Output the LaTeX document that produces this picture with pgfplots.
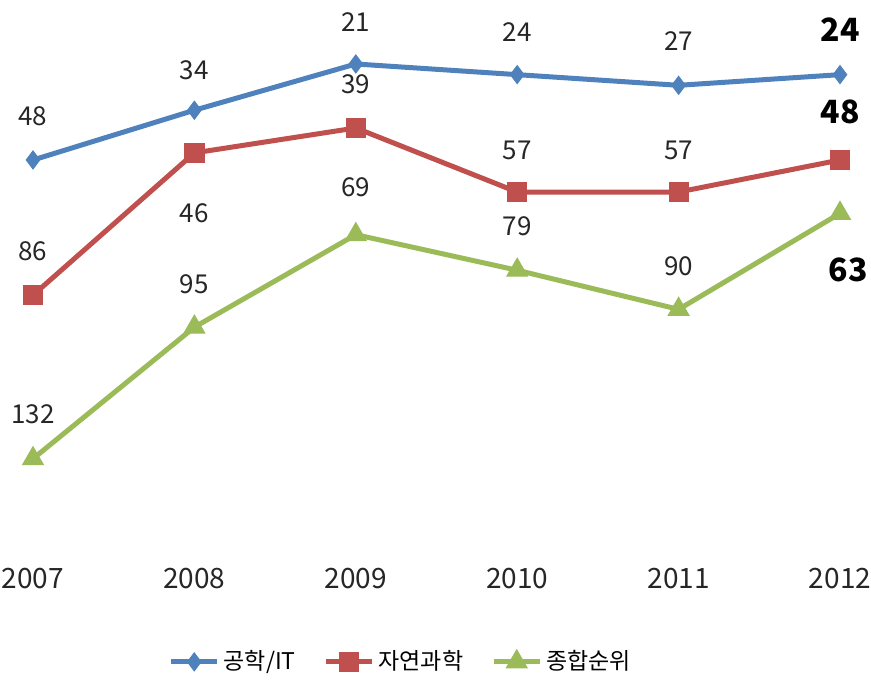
\documentclass[border=0pt]{standalone}
\usepackage{pgfplots}
\pgfplotsset{compat=1.18}
\usepackage{fontspec}
\setmainfont{Noto Sans CJK KR}

\definecolor{cBlue}{HTML}{4F81BD}
\definecolor{cRed}{HTML}{C0504D}
\definecolor{cGreen}{HTML}{9BBB59}

\begin{document}
\begin{tikzpicture}
\begin{axis}[
    scale only axis,
    width=403.5pt, height=284.5pt,
    xmin=2007, xmax=2012,
    ymin=0, ymax=160,
    y dir=reverse,
    clip=false,
    axis line style={draw=none},
    major tick length=0pt,
    ytick=\empty,
    xtick={2007,2008,2009,2010,2011,2012},
    /pgf/number format/1000 sep={},
    /pgf/number format/assume math mode=true,
    xticklabel style={anchor=center, yshift=-10pt, font=\fontsize{14}{17}\selectfont, text=black!85},
    legend columns=3,
    legend style={at={(axis description cs:0.457,-0.182)}, anchor=center, draw=none,
        font=\fontsize{11.5}{13}\selectfont,
        /tikz/every even column/.append style={column sep=12pt}},
    legend image code/.code={
        \draw[mark repeat=2,mark phase=2] plot coordinates {(0pt,0pt) (11.5pt,0pt) (23pt,0pt)};},
    every axis plot/.append style={line width=2.5pt},
]
\addplot[color=cBlue, mark=diamond*, mark size=4.5pt, mark options={line width=0.5pt}]
    coordinates {(2007,48) (2008,34) (2009,21) (2010,24) (2011,27) (2012,24)};
\addlegendentry{공학/IT}
\addplot[color=cRed, mark=square*, mark size=4.8pt, mark options={line width=0.5pt}]
    coordinates {(2007,86) (2008,46) (2009,39) (2010,57) (2011,57) (2012,48)};
\addlegendentry{자연과학}
\addplot[color=cGreen, mark=triangle*, mark size=6pt, mark options={line width=0.5pt}]
    coordinates {(2007,132) (2008,95) (2009,69) (2010,79) (2011,90) (2012,63)};
\addlegendentry{종합순위}

% data labels
\begin{scope}[every node/.style={font=\fontsize{13}{15}\selectfont, text=black!85}]
\node[yshift=22pt] at (axis cs:2007,48) {48};
\node[yshift=20pt] at (axis cs:2008,34) {34};
\node[yshift=21pt] at (axis cs:2009,21) {21};
\node[yshift=21.5pt] at (axis cs:2010,24) {24};
\node[yshift=22pt] at (axis cs:2011,27) {27};
\node[yshift=22pt] at (axis cs:2007,86) {86};
\node[yshift=-30pt] at (axis cs:2008,46) {46};
\node[yshift=22pt] at (axis cs:2009,39) {39};
\node[yshift=21pt] at (axis cs:2010,57) {57};
\node[yshift=21pt] at (axis cs:2011,57) {57};
\node[yshift=22pt] at (axis cs:2007,132) {132};
\node[yshift=21.5pt] at (axis cs:2008,95) {95};
\node[yshift=23.5pt] at (axis cs:2009,69) {69};
\node[yshift=22pt] at (axis cs:2010,79) {79};
\node[yshift=21.5pt] at (axis cs:2011,90) {90};
\end{scope}
\begin{scope}[every node/.style={font=\fontsize{16}{18}\selectfont\bfseries, text=black}]
\node[yshift=22.5pt] at (axis cs:2012,24) {24};
\node[yshift=24pt] at (axis cs:2012,48) {48};
\node[yshift=-28.5pt, xshift=4pt] at (axis cs:2012,63) {63};
\end{scope}
\end{axis}
\pgfresetboundingbox
\useasboundingbox (-16.5pt,-64.85pt) rectangle (419pt,279.15pt);
\end{tikzpicture}
\end{document}
